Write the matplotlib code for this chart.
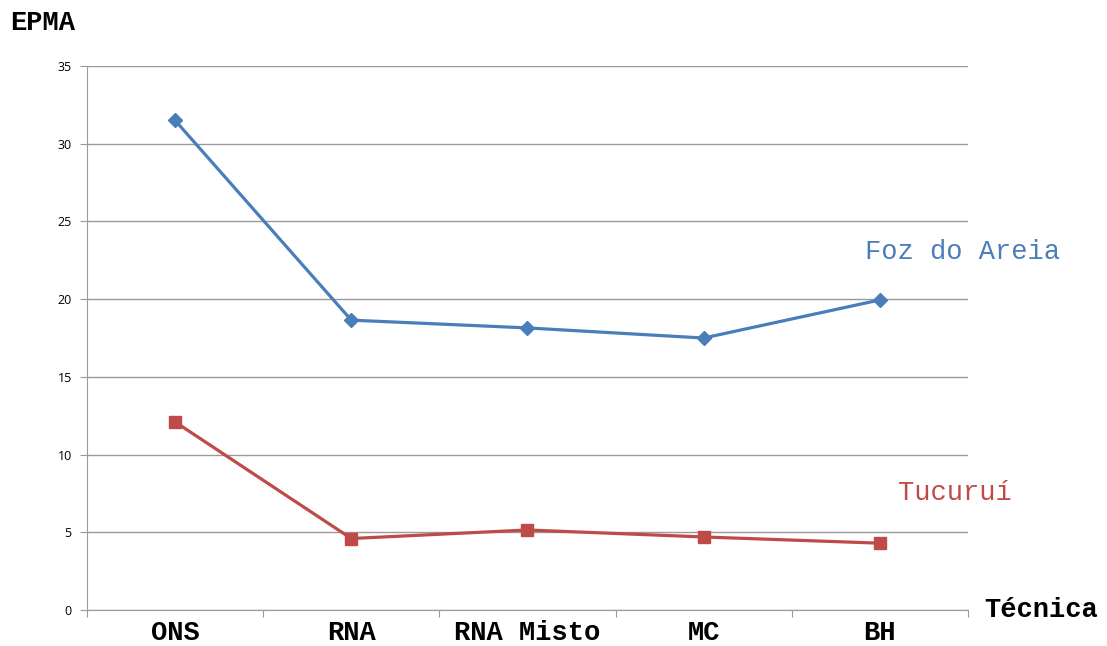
from matplotlib import pyplot as plt
import numpy as np

categorias = ["ONS", "RNA", "RNA Misto", "MC", "BH"]
foz_do_areia = [31.5, 18.65, 18.15, 17.5, 19.95]
tucurui = [12.1, 4.6, 5.15, 4.7, 4.3]
y_ticks = [0, 5, 10, 15, 20, 25, 30, 35]

azul = "#4A7EBB"
vermelho = "#BE4B48"
cinza = "#9A9A9A"
mono = "Liberation Mono"
tam = 19.5

fig = plt.figure(figsize=(11.07, 6.46), dpi=100)
ax = fig.add_axes([0.0786, 0.0557, 0.7958, 0.8421])

x = np.arange(len(categorias))
ax.plot(x, foz_do_areia, color=azul, lw=2.3, marker="D", ms=7, zorder=3)
ax.plot(x, tucurui, color=vermelho, lw=2.3, marker="s", ms=8, zorder=3)

ax.set_xlim(-0.5, len(categorias) - 0.5)
ax.set_ylim(0, 35)
ax.set_yticks(y_ticks)
ax.yaxis.grid(True, color=cinza, lw=1)
ax.set_axisbelow(True)

# category labels between boundary ticks
ax.set_xticks(np.arange(-0.5, len(categorias), 1.0))
ax.set_xticklabels([])
ax.set_xticks(x, minor=True)
ax.set_xticklabels(categorias, minor=True, fontfamily=mono, fontweight="bold", fontsize=tam)
ax.tick_params(axis="x", which="minor", length=0, pad=7)
ax.tick_params(axis="x", which="major", length=5, color=cinza)
ax.tick_params(axis="y", length=5, color=cinza, labelsize=9, pad=6)
for lbl in ax.get_yticklabels():
    lbl.set_fontfamily("Open Sans")

for s in ["top", "right"]:
    ax.spines[s].set_visible(False)
for s in ["left", "bottom"]:
    ax.spines[s].set_color(cinza)

fig.text(0.009, 0.965, "EPMA", fontfamily=mono, fontweight="bold", fontsize=tam, va="center")
fig.text(0.889, 0.055, "Técnica", fontfamily=mono, fontweight="bold", fontsize=tam, va="center")
fig.text(0.781, 0.61, "Foz do Areia", fontfamily=mono, fontsize=tam, color=azul, va="center")
fig.text(0.811, 0.237, "Tucuruí", fontfamily=mono, fontsize=tam, color=vermelho, va="center")

fig.savefig("out.png", dpi=100)
